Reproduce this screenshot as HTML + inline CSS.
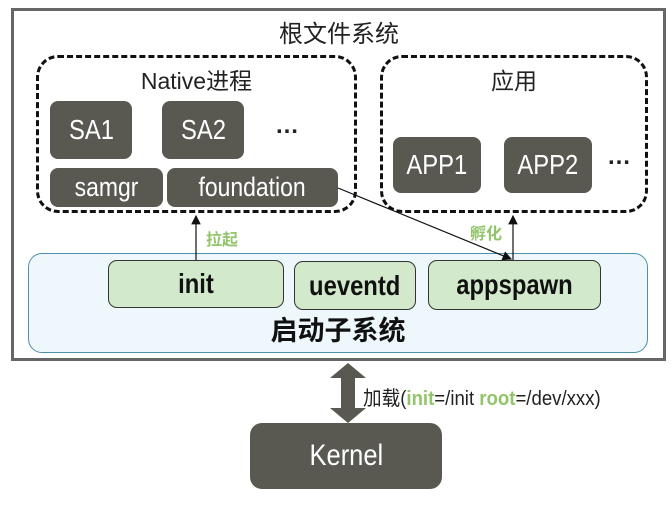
<!DOCTYPE html>
<html><head><meta charset="utf-8"><style>
*{margin:0;padding:0;box-sizing:border-box}
body{width:672px;height:505px;background:#fff;position:relative;overflow:hidden;font-family:"Liberation Sans","Noto Sans CJK SC",sans-serif}
.a{position:absolute}
.dk{position:absolute;background:#595952;color:#fff;border-radius:8px;display:flex;align-items:center;justify-content:center;font-size:28px}
.dk span,.gr span{display:inline-block;transform:scaleX(0.85);white-space:nowrap}
.gr{position:absolute;background:#d3e9cc;border:1.5px solid #333;border-radius:9px;display:flex;align-items:center;justify-content:center;font-size:28px;font-weight:bold;color:#111}
.dash{position:absolute;border:3px dashed #111;border-radius:22px}
.g{color:#92c46a}
</style></head><body>
<div class="a" style="left:11px;top:8px;width:655px;height:353px;border:3px solid #666"></div>
<div class="a" style="left:239px;width:200px;top:14px;text-align:center;font-size:24px;color:#222">根文件系统</div>
<div class="dash" style="left:36px;top:55px;width:321px;height:158px"></div>
<div class="dash" style="left:380px;top:55px;width:268px;height:158px"></div>
<div class="a" style="left:36px;width:321px;top:62px;text-align:center;font-size:23px;color:#222">Native进程</div>
<div class="a" style="left:380px;width:268px;top:62px;text-align:center;font-size:23px;color:#222">应用</div>
<div class="dk" style="left:50px;top:101px;width:82px;height:58px"><span>SA1</span></div>
<div class="dk" style="left:162px;top:101px;width:82px;height:58px"><span>SA2</span></div>
<div class="a" style="left:275px;top:112px;font-size:24px;font-weight:bold;color:#222">…</div>
<div class="dk" style="left:50px;top:168px;width:113px;height:39px;font-size:27px"><span>samgr</span></div>
<div class="dk" style="left:167px;top:168px;width:171px;height:39px;font-size:27px"><span>foundation</span></div>
<div class="dk" style="left:393px;top:137px;width:88px;height:56px"><span>APP1</span></div>
<div class="dk" style="left:504px;top:137px;width:88px;height:56px"><span>APP2</span></div>
<div class="a" style="left:607px;top:143px;font-size:24px;font-weight:bold;color:#222">…</div>
<div class="a" style="left:28px;top:253px;width:620px;height:100px;background:#eef7fc;border:1px solid #4f8fae;border-radius:14px"></div>
<div class="gr" style="left:108px;top:260px;width:176px;height:48px"><span>init</span></div>
<div class="gr" style="left:294px;top:261px;width:122px;height:49px"><span>ueventd</span></div>
<div class="gr" style="left:428px;top:260px;width:173px;height:50px"><span>appspawn</span></div>
<div class="a" style="left:28px;width:620px;top:309px;text-align:center;font-size:27px;font-weight:bold;color:#111">启动子系统</div>
<div class="a g" style="left:206px;top:226px;font-size:16px;font-weight:bold">拉起</div>
<div class="a g" style="left:470px;top:220px;font-size:16px;font-weight:bold">孵化</div>
<svg class="a" style="left:0;top:0" width="672" height="505">
<defs><marker id="m" markerWidth="8" markerHeight="8" refX="7" refY="4" orient="auto"><path d="M0,0L8,4L0,8z" fill="#111"/></marker></defs>
<line x1="196" y1="260" x2="196" y2="216" stroke="#111" stroke-width="1.2" marker-end="url(#m)"/>
<line x1="513" y1="260" x2="513" y2="216" stroke="#111" stroke-width="1.2" marker-end="url(#m)"/>
<line x1="338" y1="188" x2="511" y2="259" stroke="#111" stroke-width="1.2" marker-end="url(#m)"/>
<path d="M348,363 L366,378 L355,378 L355,408 L366,408 L348,423 L330,408 L341,408 L341,378 L330,378 Z" fill="#595952"/>
</svg>
<div class="a" style="left:363px;top:382px;font-size:20px;color:#222;white-space:nowrap;transform:scaleX(0.93);transform-origin:left">加载(<span class="g" style="font-weight:bold">init</span>=/init <span class="g" style="font-weight:bold">root</span>=/dev/xxx)</div>
<div class="dk" style="left:250px;top:423px;width:192px;height:66px;border-radius:12px;font-size:30px"><span>Kernel</span></div>
</body></html>
